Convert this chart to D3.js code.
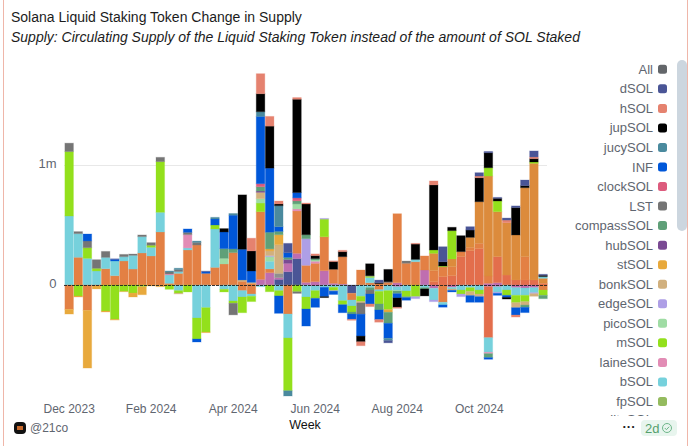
<!DOCTYPE html>
<html><head><meta charset="utf-8">
<script src="https://cdn.jsdelivr.net/npm/d3@7"></script>
<style>
html,body{margin:0;padding:0;background:#fff;overflow:hidden}
svg{display:block}
text{font-family:"Liberation Sans",Arial,sans-serif}
</style></head><body><svg id="c" width="690" height="446"></svg>
<script>
const title="Solana Liquid Staking Token Change in Supply";
const subtitle="Supply: Circulating Supply of the Liquid Staking Token instead of the amount of SOL Staked";
const weekCount=53;
const tickIndex=[0,9,18,27,36,45];
const tickLabels=["Dec 2023","Feb 2024","Apr 2024","Jun 2024","Aug 2024","Oct 2024"];
const yTicks=[0,1000];
const yTickLabels=["0","1m"];
const legendNames=["All","dSOL","hSOL","jupSOL","jucySOL","INF","clockSOL","LST","compassSOL","hubSOL","stSOL","bonkSOL","edgeSOL","picoSOL","mSOL","laineSOL","bSOL","fpSOL","jitoSOL"];
const legendColors=["#63666a","#4a5596","#e5826f","#000000","#4a8a9e","#0057d9","#dd5b7d","#757575","#5fa078","#7a4a93","#e8a93c","#d1b07e","#ae9fe6","#9fdca4","#93e01c","#e28cb5","#76d1dc","#94bb5e","#e38044"];

// each list holds [week number, supply change in thousands]
const navyUp=[[23,47],[24,111],[25,220]];
const navyDown=[[31,69]];
const vSOLUp=[[21,47],[22,103],[23,14],[24,69],[25,44],[26,22],[27,28],[28,119],[29,14],[30,8],[36,19],[39,125],[46,14],[47,19]];
const vSOLDown=[[27,8],[36,14],[40,28],[42,19],[46,14],[47,14],[49,22],[50,25],[51,22]];
const greyUp=[[23,36]];
const redUp=[[40,28],[41,69],[42,78],[43,236],[44,286],[45,303],[47,217],[48,83],[49,42],[50,42],[51,42],[52,14]];
const redDown=[[46,425]];
const jitoUp=[[1,231],[4,136],[5,78],[6,200],[7,133],[8,267],[9,242],[10,442],[11,14],[12,97],[13,292],[14,333],[15,97],[16,147],[17,175],[18,270],[19,31],[20,14],[21,564],[22,31],[25,353],[26,142],[27,153],[28,283],[29,117],[30,228],[32,125],[33,19],[34,11],[35,22],[36,575],[37,181],[38,194],[39,117],[40,92],[41,83],[42,75],[43,42],[44,28],[45,44],[46,61],[50,194]];
const jitoDown=[[0,203],[2,211],[3,8],[19,47],[20,75],[24,242],[31,56],[34,39],[41,144],[52,42]];
const darkUp=[[40,144],[42,64],[44,83],[45,347],[46,833],[47,375],[48,436],[49,375],[50,575],[51,972],[52,42]];
const bSOLUp=[[0,575],[1,197],[2,222],[3,117],[4,94],[5,122],[6,36],[7,114],[8,136],[9,72],[10,164],[11,70],[12,15],[13,17],[16,320],[22,64],[33,44],[38,19],[52,14]];
const bSOLDown=[[12,47],[14,275],[15,189],[17,36],[18,133],[19,53],[20,19],[21,14],[23,47],[24,200],[26,100],[27,39],[28,19],[29,19],[30,131],[31,50],[32,94],[33,22],[34,14],[35,47],[36,30],[37,50],[39,22],[40,97],[41,22],[42,14],[43,42],[44,22],[45,42],[46,122],[47,47],[48,42],[49,64],[50,61],[51,42]];
const laineUp=[[11,8],[13,111],[25,17],[27,17]];
const laineDown=[[46,11]];
const mSOLUp=[[0,537],[2,89],[3,22],[9,17],[10,422],[16,33],[21,72],[28,147],[33,11],[40,28],[41,6],[42,236],[46,69],[47,89],[51,11]];
const mSOLDown=[[1,92],[4,217],[5,286],[6,53],[7,67],[8,14],[11,36],[12,22],[13,58],[14,175],[15,203],[17,22],[18,19],[19,131],[20,44],[22,56],[23,44],[24,439],[25,56],[26,100],[27,64],[29,28],[30,33],[31,50],[32,44],[34,105],[35,158],[37,47],[38,97],[43,33],[44,33],[45,33],[48,44],[49,61],[50,53],[52,44]];
const picoUp=[[17,47],[21,36],[22,39],[25,42],[27,11]];
const picoDown=[[36,6]];
const edgeUp=[[22,8],[26,222],[28,6],[33,3]];
const edgeDown=[[29,4],[38,17],[40,14],[43,22],[47,8],[51,8]];
const bonkUp=[[19,11],[20,8],[21,53],[22,39],[23,239]];
const bonkDown=[[12,6],[32,11],[42,11],[44,33],[45,22],[49,42],[50,28],[51,22]];
const stSOLUp=[[22,17],[23,83]];
const stSOLDown=[[0,39],[1,8],[2,481],[3,25],[4,8],[5,6],[6,3],[7,33],[8,67],[9,8],[10,14],[15,5],[35,22]];
const hubUp=[[21,11],[24,33]];
const compassUp=[[17,81],[18,31],[21,36],[22,139],[23,28],[24,17],[25,25],[26,33],[27,11]];
const compassDown=[[31,17],[33,20],[34,50],[35,92],[36,22],[37,8],[39,11],[46,33],[50,19],[52,28]];
const lstUp=[[0,70],[1,17],[2,56],[3,72],[4,50],[6,19],[7,11],[8,14],[9,22],[10,36],[11,17],[12,17],[13,19],[14,22],[35,5],[37,19]];
const lstDown=[[18,97],[25,14],[32,94],[33,33]];
const clockUp=[[21,25],[25,25]];
const infUp=[[2,58],[5,14],[13,28],[15,14],[16,50],[17,139],[18,281],[19,256],[20,95],[21,561],[22,534],[23,39],[24,39],[25,44]];
const infDown=[[14,25],[23,145],[26,142],[27,75],[28,78],[29,28],[30,67],[31,44],[32,183],[33,83],[34,80],[35,125],[36,36],[37,22],[41,19],[42,14],[44,56],[45,47],[46,14],[47,17],[48,17],[49,61],[50,44]];
const jucyUp=[[11,8],[12,11],[14,11],[16,14],[18,14],[21,39],[23,175]];
const jucyDown=[[24,44],[35,19]];
const jupUp=[[17,28],[19,453],[20,167],[21,150],[22,350],[23,14],[25,778],[26,256],[27,25],[29,64],[30,42],[33,100],[34,8],[35,103],[38,128],[40,542],[41,36],[42,28],[43,133],[44,61],[45,200],[46,125],[47,22],[49,228],[50,17],[51,28],[52,11]];
const jupDown=[[28,8],[32,47],[36,78],[39,58],[48,14]];
const hSOLUp=[[20,106],[21,167],[22,81],[23,25],[25,14],[26,8],[27,14],[29,6],[30,11],[38,6],[40,33],[45,14],[48,22],[51,14]];
const hSOLDown=[[31,8],[32,33],[33,22],[34,22],[36,8],[49,17]];
const dSOLUp=[[5,4],[15,5],[24,78],[34,22],[41,125],[44,28],[45,28],[46,11],[47,8],[48,17],[49,14],[50,47],[51,50],[52,8]];
const dSOLDown=[[35,19]];

// stack order, bottom first
const stackDefs=[
 ["navy","#4a5596",navyUp,navyDown],["vSOL","#bf6eb0",vSOLUp,vSOLDown],["grey","#8f8f8f",greyUp,[]],
 ["red","#e36e4c",redUp,redDown],["jito","#e38044",jitoUp,jitoDown],["dark","#dc8b3c",darkUp,[]],
 ["bSOL","#76d1dc",bSOLUp,bSOLDown],["laineSOL","#e28cb5",laineUp,laineDown],["mSOL","#93e01c",mSOLUp,mSOLDown],
 ["picoSOL","#9fdca4",picoUp,picoDown],["edgeSOL","#ae9fe6",edgeUp,edgeDown],["bonkSOL","#d1b07e",bonkUp,bonkDown],
 ["stSOL","#e8a93c",stSOLUp,stSOLDown],["hubSOL","#7a4a93",hubUp,[]],["compassSOL","#5fa078",compassUp,compassDown],
 ["LST","#757575",lstUp,lstDown],["clockSOL","#dd5b7d",clockUp,[]],["INF","#0057d9",infUp,infDown],
 ["jucySOL","#4a8a9e",jucyUp,jucyDown],["jupSOL","#000000",jupUp,jupDown],["hSOL","#e5826f",hSOLUp,hSOLDown],["dSOL","#4a5596",dSOLUp,dSOLDown]
];

const svg=d3.select("#c");
const weeks=d3.range(weekCount);
const x=d3.scaleBand().domain(weeks).range([64.6,547.6]).paddingInner(0.06).paddingOuter(0.03);
const y=d3.scaleLinear().domain([-1200,1800]).range([429,69]);
const keys=stackDefs.map(d=>d[0]);
const color=d3.scaleOrdinal(keys,stackDefs.map(d=>d[1]));

// frame
[3.5,687.5].forEach(px=>svg.append("line").attr("x1",px).attr("x2",px).attr("y1",0).attr("y2",446).attr("stroke","#efb6a9"));

// titles
svg.append("text").attr("x",11).attr("y",21.5).attr("font-size",14).attr("fill","#1c1c1c").text(title);
svg.append("text").attr("x",11).attr("y",41.5).attr("font-size",14).attr("font-style","italic").attr("fill","#1c1c1c").text(subtitle);

// grid
svg.append("g").selectAll("line").data(yTicks.filter(d=>d)).join("line")
 .attr("x1",64).attr("x2",547).attr("y1",d=>Math.round(y(d))+.5).attr("y2",d=>Math.round(y(d))+.5).attr("stroke","#e8e8e8");

// stacks
function rows(col){
  const maps=stackDefs.map(d=>new Map(d[col]));
  return weeks.map(w=>Object.fromEntries(keys.map((k,i)=>[k,maps[i].get(w)||0])));
}
const posS=d3.stack().keys(keys)(rows(2));
const negS=d3.stack().keys(keys)(rows(3));
function draw(series,sign){
 series.forEach(s=>{
  svg.append("g").selectAll("rect").data(s.map((d,i)=>({i,a:d[0],b:d[1]})).filter(d=>d.b>d.a)).join("rect")
   .attr("x",d=>x(d.i)).attr("width",x.bandwidth())
   .attr("y",d=>sign>0?y(d.b):y(-d.a)).attr("height",d=>Math.abs(y(d.a)-y(d.b)))
   .attr("fill",color(s.key)).attr("stroke",color(s.key)).attr("stroke-opacity",.28).attr("stroke-width",1);
 });
}
draw(posS,1);draw(negS,-1);

// zero line
svg.append("line").attr("x1",64).attr("x2",547).attr("y1",285.5).attr("y2",285.5).attr("stroke","#222").attr("stroke-dasharray","3 1").attr("opacity",.9);

// axes
const ax=d3.axisBottom(x).tickValues(tickIndex).tickSize(0).tickFormat((d,i)=>tickLabels[i]);
const gx=svg.append("g").attr("transform","translate(0,401.5)").call(ax);
gx.select(".domain").remove();
gx.selectAll("text").attr("font-size",12).attr("fill","#5f6670").attr("font-family","Inter");
const ay=d3.axisLeft(y).tickValues(yTicks).tickSize(0).tickFormat((d,i)=>yTickLabels[i]);
const gy=svg.append("g").attr("transform","translate(59.5,-1.5)").call(ay);
gy.select(".domain").remove();
gy.selectAll("text").attr("font-size",13).attr("fill","#5f6670").attr("font-family","Inter");
svg.append("text").attr("x",305).attr("y",429).attr("text-anchor","middle").attr("font-size",12.5).attr("fill","#111").attr("font-family","Inter").text("Week");

// legend, cut off by its scrolling box just under the last full row
svg.append("clipPath").attr("id","lc").append("rect").attr("x",560).attr("y",55).attr("width",115).attr("height",361);
const lg=svg.append("g").attr("clip-path","url(#lc)");
const li=lg.selectAll("g").data(legendNames).join("g").attr("transform",(d,i)=>`translate(0,${Math.min(69.3+i*19.54,419)})`);
li.append("text").attr("x",653).attr("y",4.5).attr("text-anchor","end").attr("font-size",13).attr("fill","#5f6670").text(d=>d);
li.filter((d,i)=>i<legendNames.length-1).append("rect").attr("x",658).attr("y",-4.5).attr("width",9).attr("height",9).attr("rx",2.5).attr("fill",(d,i)=>legendColors[i]);
svg.append("rect").attr("x",677).attr("y",60).attr("width",10).attr("height",171).attr("rx",5).attr("fill","#ccd6df");

// footer
svg.append("rect").attr("x",14).attr("y",422).attr("width",12).attr("height",12).attr("rx",4).attr("fill","#111");
svg.append("rect").attr("x",17).attr("y",426).attr("width",6).attr("height",4).attr("fill","#c8692c");
svg.append("text").attr("x",30).attr("y",432).attr("font-size",12).attr("fill","#5f6670").attr("font-family","Inter").text("@21co");
svg.append("text").attr("x",629).attr("y",431).attr("text-anchor","middle").attr("font-size",13).attr("font-weight","bold").attr("fill","#222").text("···");
svg.append("rect").attr("x",641).attr("y",420).attr("width",36).attr("height",16).attr("rx",4).attr("fill","#e8f5ee");
svg.append("text").attr("x",645).attr("y",433).attr("font-size",13).attr("fill","#55a06c").text("2d");
svg.append("circle").attr("cx",667).attr("cy",428).attr("r",4.5).attr("fill","none").attr("stroke","#6fb78a");
svg.append("path").attr("d","M664.8 428l1.6 1.7 2.8-3").attr("fill","none").attr("stroke","#6fb78a");
</script></body></html>
